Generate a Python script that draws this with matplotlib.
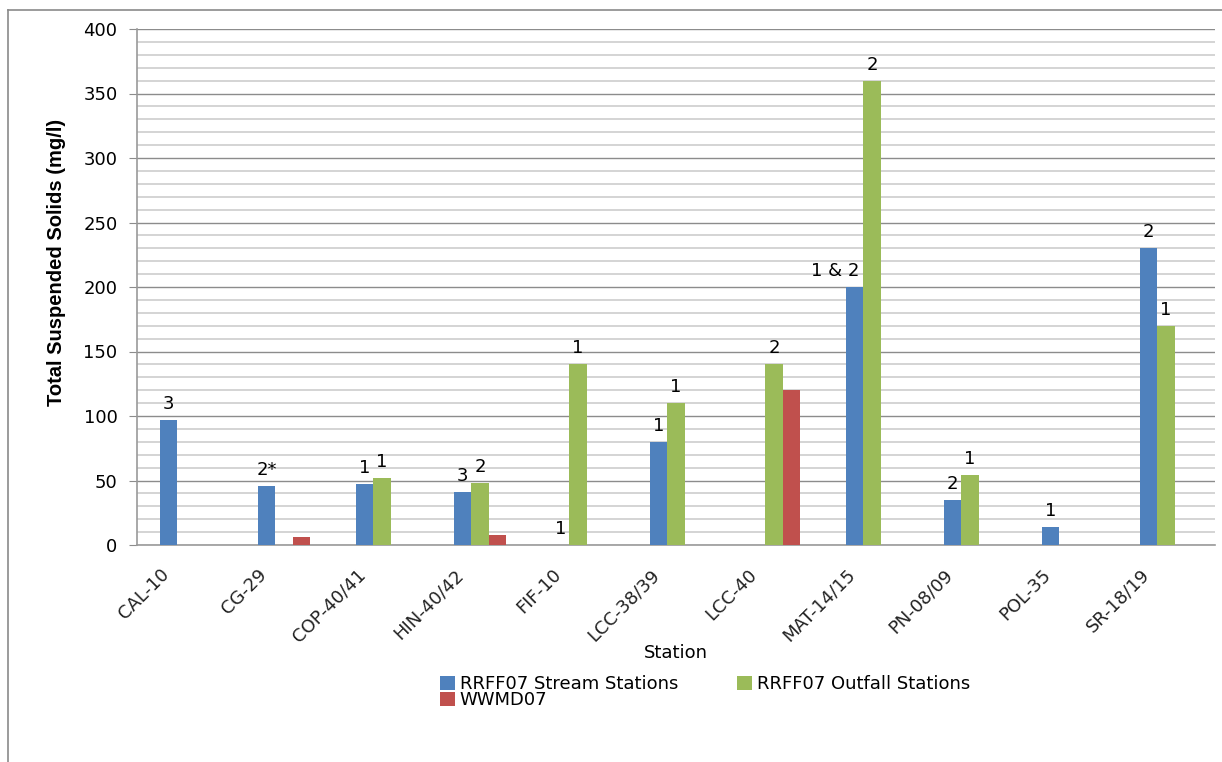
import matplotlib
matplotlib.use("Agg")
import matplotlib.pyplot as plt
import matplotlib.transforms as mtransforms
import numpy as np
from matplotlib.lines import Line2D
from matplotlib.ticker import MultipleLocator

# stations and total suspended solids (mg/l) per survey
stations = ["CAL-10", "CG-29", "COP-40/41", "HIN-40/42", "FIF-10", "LCC-38/39",
            "LCC-40", "MAT-14/15", "PN-08/09", "POL-35", "SR-18/19"]
stream = [97, 46, 47, 41, 0, 80, 0, 200, 35, 14, 230]
outfall = [0, 0, 52, 48, 140, 110, 140, 360, 54, 0, 170]
wwmd = [0, 6, 0, 8, 0, 0, 120, 0, 0, 0, 0]

# sample-count notes written over the bars
stream_notes = ["3", "2*", "1", "3", "1", "1", None, "1 & 2", "2", "1", "2"]
outfall_notes = [None, None, "1", "2", "1", "1", "2", "2", "1", None, "1"]

series = [
    ("RRFF07 Stream Stations", stream, stream_notes, "#4F81BD"),
    ("RRFF07 Outfall Stations", outfall, outfall_notes, "#9BBB59"),
    ("WWMD07", wwmd, None, "#C0504D"),
]

plt.rcParams["font.family"] = ["DejaVu Sans"]

W, H = 1222, 762
fig = plt.figure(figsize=(W / 100, H / 100), dpi=100)
ax = fig.add_axes([137 / W, 1 - 545 / H, (1215 - 137) / W, 516 / H])

# chart border (top and left edges only are inside the image)
border = dict(transform=fig.transFigure, color="#8a8a8a", linewidth=1.2)
fig.lines.append(Line2D([8 / W, 1], [1 - 10 / H] * 2, **border))
fig.lines.append(Line2D([8 / W] * 2, [0, 1 - 10 / H], **border))

x = np.arange(len(stations))
w = 0.175
handles = []
for i, (name, vals, notes, color) in enumerate(series):
    pos = x + (i - 1) * w
    bars = ax.bar(pos, vals, w, color=color, linewidth=0, label=name, zorder=3)
    handles.append(bars)
    if notes is None:
        continue
    for px, v, note in zip(pos, vals, notes):
        if note is None:
            continue
        dx = -14 if note == "1 & 2" else 0
        ax.annotate(note, (px, v), xytext=(dx, 5), textcoords="offset points",
                    ha="center", va="bottom", fontsize=13, zorder=4)

ax.set_xlim(-0.5, len(stations) - 0.5)
ax.set_ylim(0, 400)
ax.yaxis.set_major_locator(MultipleLocator(50))
ax.yaxis.set_minor_locator(MultipleLocator(10))
ax.grid(axis="y", which="minor", color="#d4d4d4", linewidth=1.4, zorder=0)
ax.grid(axis="y", which="major", color="#8c8c8c", linewidth=1.0, zorder=1)
ax.tick_params(axis="y", which="major", length=6, color="#8c8c8c",
               labelsize=13, pad=8)
ax.tick_params(axis="y", which="minor", length=0)
ax.tick_params(axis="x", length=0, pad=4)

ax.set_xticks(x)
ax.set_xticklabels(stations, rotation=45, ha="right", rotation_mode="anchor",
                   fontsize=13, color="#222222")
shift = mtransforms.ScaledTranslation(-26 / 100, -15 / 100, fig.dpi_scale_trans)
for lbl in ax.get_xticklabels():
    lbl.set_transform(lbl.get_transform() + shift)

for side in ["top", "right"]:
    ax.spines[side].set_visible(False)
for side in ["left", "bottom"]:
    ax.spines[side].set_color("#9a9a9a")
    ax.spines[side].set_linewidth(1.2)

ax.set_ylabel("Total Suspended Solids (mg/l)", fontsize=14.5, fontweight="bold",
              family=["Liberation Sans Narrow", "Liberation Sans", "DejaVu Sans"])
ax.yaxis.set_label_coords(-0.066, 0.548)
ax.set_xlabel("Station", fontsize=13)
ax.xaxis.set_label_coords(0.5, -0.192)

# legend laid out row by row: Stream / Outfall, then WWMD below Stream
order = [handles[0], handles[2], handles[1]]
fig.legend(order, [h.get_label() for h in order], ncol=2, frameon=False,
           fontsize=13, loc="upper left", bbox_to_anchor=(431 / W, 1 - 666 / H),
           handlelength=0.85, handleheight=0.85, handletextpad=0.25,
           columnspacing=3.25, labelspacing=-0.1, borderpad=0)

fig.savefig("out.png", dpi=100)
